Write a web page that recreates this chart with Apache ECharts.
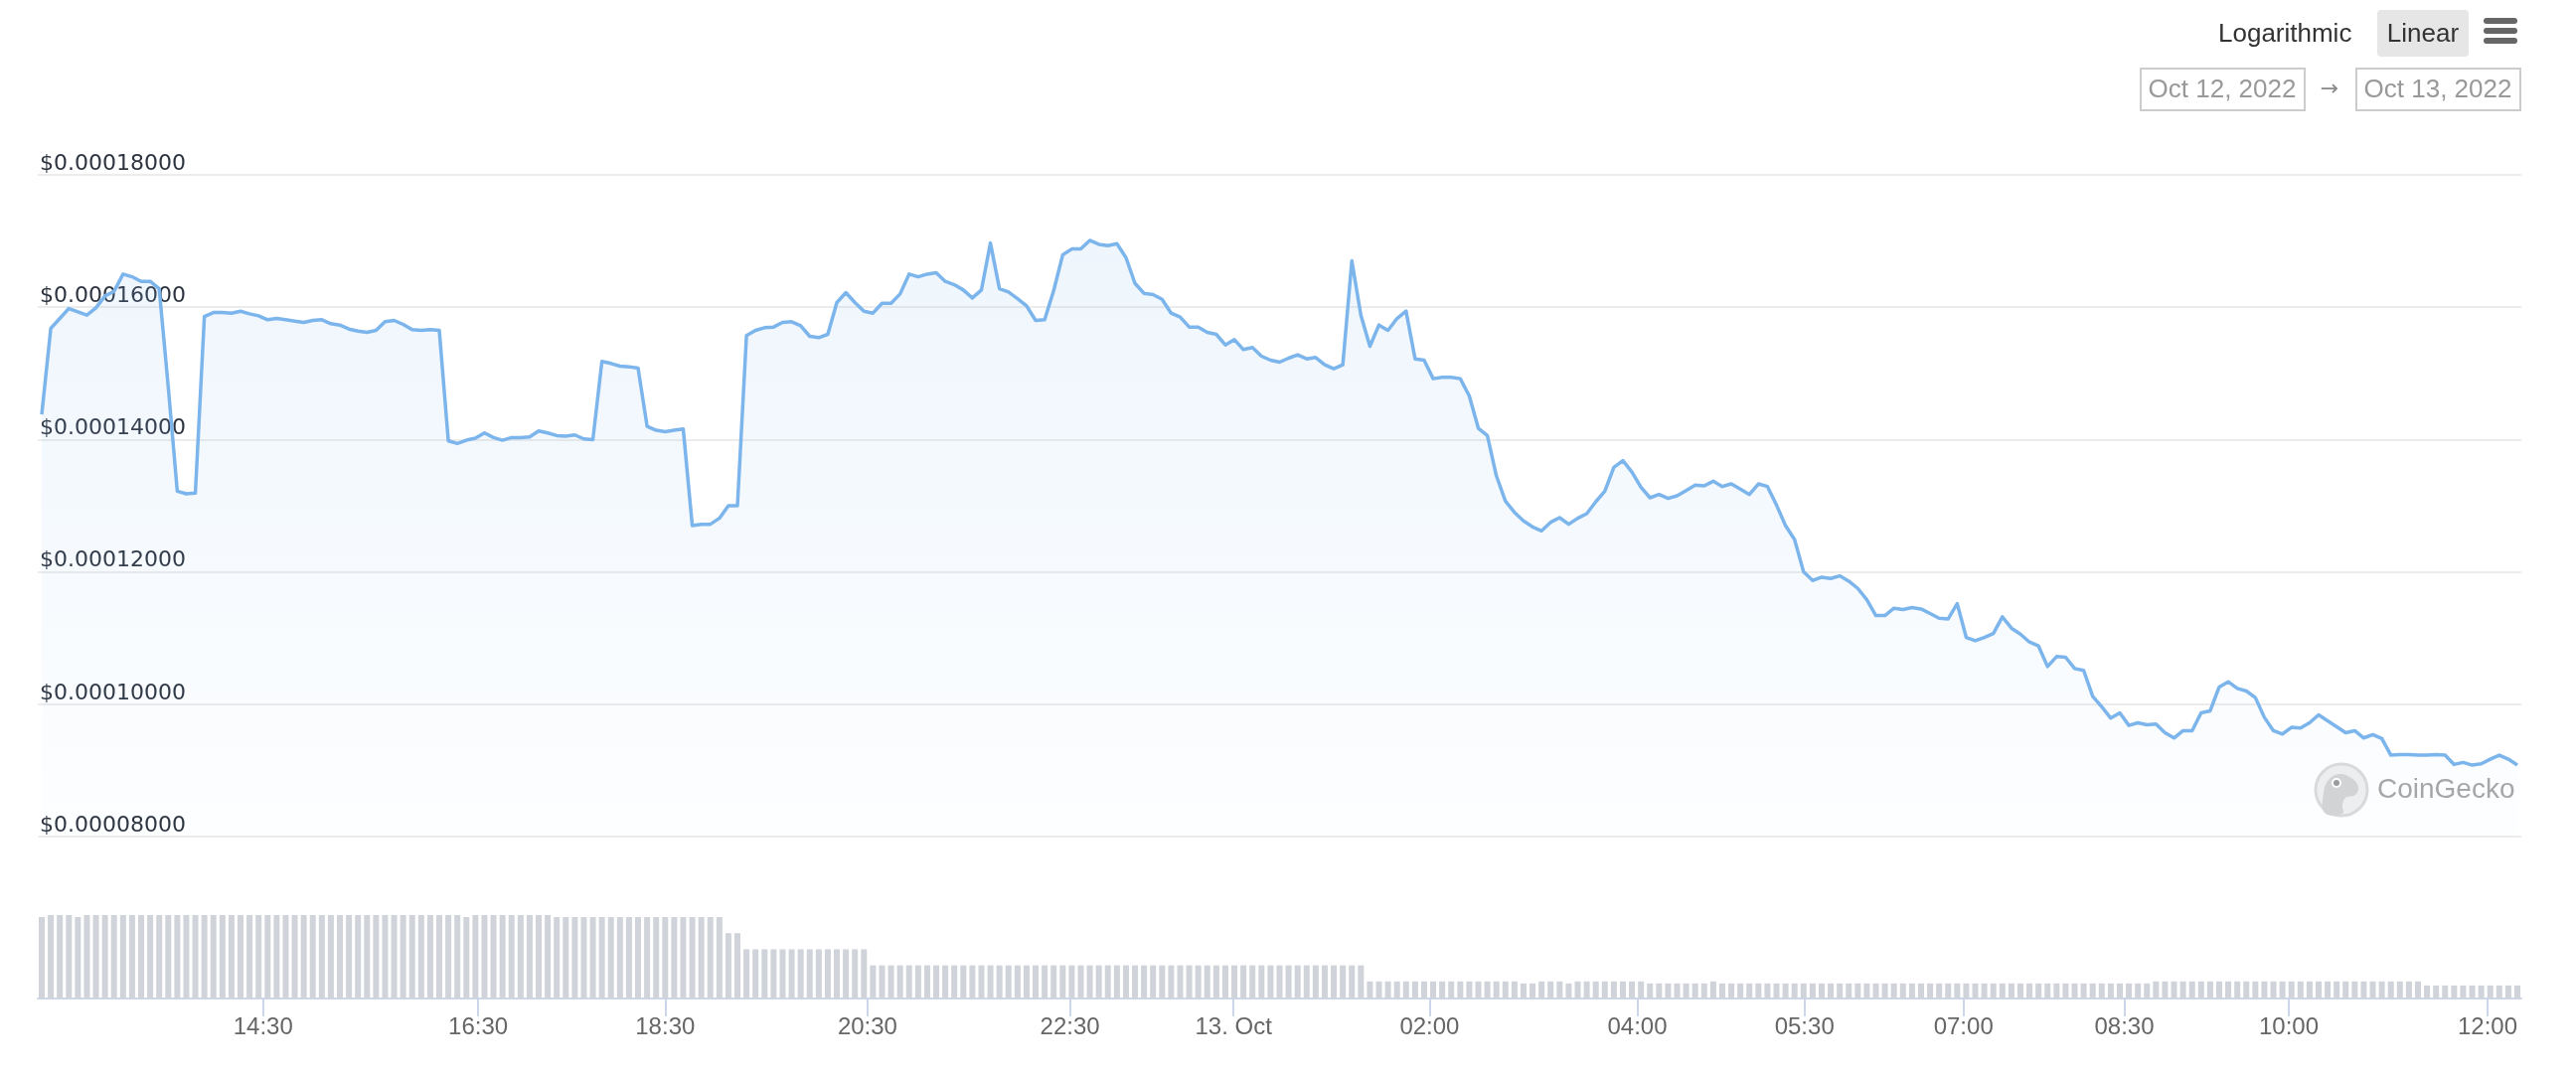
<!DOCTYPE html>
<html>
<head>
<meta charset="utf-8">
<title>Price chart</title>
<script src="https://cdn.jsdelivr.net/npm/echarts@6.0.0/dist/echarts.min.js"></script>
<style>
  html, body { margin: 0; padding: 0; background: #fff; }
  #chart { width: 2592px; height: 1084px; }
</style>
</head>
<body>
<div id="chart"></div>
<script>
// price in USD, one value per point (ordinal x axis, points evenly spaced)
var price = [
  14.38e-5, 15.68e-5, 15.83e-5, 15.98e-5, 15.93e-5, 15.88e-5, 15.99e-5, 16.17e-5, 16.24e-5, 16.50e-5,
  16.46e-5, 16.39e-5, 16.39e-5, 16.28e-5, 14.80e-5, 13.22e-5, 13.18e-5, 13.19e-5, 15.86e-5, 15.92e-5,
  15.92e-5, 15.91e-5, 15.94e-5, 15.90e-5, 15.87e-5, 15.81e-5, 15.83e-5, 15.81e-5, 15.79e-5, 15.77e-5,
  15.80e-5, 15.81e-5, 15.75e-5, 15.73e-5, 15.67e-5, 15.64e-5, 15.62e-5, 15.65e-5, 15.78e-5, 15.80e-5,
  15.74e-5, 15.66e-5, 15.65e-5, 15.66e-5, 15.65e-5, 13.98e-5, 13.94e-5, 13.99e-5, 14.02e-5, 14.10e-5,
  14.03e-5, 13.99e-5, 14.03e-5, 14.03e-5, 14.04e-5, 14.13e-5, 14.10e-5, 14.06e-5, 14.05e-5, 14.07e-5,
  14.01e-5, 14.00e-5, 15.18e-5, 15.15e-5, 15.11e-5, 15.10e-5, 15.08e-5, 14.20e-5, 14.14e-5, 14.12e-5,
  14.14e-5, 14.16e-5, 12.70e-5, 12.72e-5, 12.72e-5, 12.81e-5, 13.00e-5, 13.00e-5, 15.57e-5, 15.65e-5,
  15.69e-5, 15.70e-5, 15.77e-5, 15.78e-5, 15.72e-5, 15.56e-5, 15.54e-5, 15.59e-5, 16.07e-5, 16.22e-5,
  16.07e-5, 15.94e-5, 15.91e-5, 16.06e-5, 16.06e-5, 16.20e-5, 16.50e-5, 16.46e-5, 16.50e-5, 16.52e-5,
  16.39e-5, 16.34e-5, 16.26e-5, 16.14e-5, 16.26e-5, 16.97e-5, 16.28e-5, 16.23e-5, 16.13e-5, 16.02e-5,
  15.80e-5, 15.81e-5, 16.25e-5, 16.79e-5, 16.88e-5, 16.88e-5, 17.01e-5, 16.95e-5, 16.93e-5, 16.96e-5,
  16.75e-5, 16.36e-5, 16.21e-5, 16.19e-5, 16.12e-5, 15.91e-5, 15.85e-5, 15.70e-5, 15.70e-5, 15.62e-5,
  15.59e-5, 15.43e-5, 15.51e-5, 15.36e-5, 15.39e-5, 15.26e-5, 15.20e-5, 15.17e-5, 15.23e-5, 15.28e-5,
  15.22e-5, 15.24e-5, 15.13e-5, 15.07e-5, 15.13e-5, 16.70e-5, 15.88e-5, 15.41e-5, 15.73e-5, 15.65e-5,
  15.83e-5, 15.94e-5, 15.22e-5, 15.20e-5, 14.92e-5, 14.94e-5, 14.94e-5, 14.92e-5, 14.66e-5, 14.17e-5,
  14.06e-5, 13.45e-5, 13.07e-5, 12.90e-5, 12.77e-5, 12.68e-5, 12.62e-5, 12.75e-5, 12.82e-5, 12.72e-5,
  12.81e-5, 12.88e-5, 13.06e-5, 13.22e-5, 13.58e-5, 13.68e-5, 13.51e-5, 13.28e-5, 13.12e-5, 13.17e-5,
  13.11e-5, 13.15e-5, 13.23e-5, 13.31e-5, 13.30e-5, 13.37e-5, 13.29e-5, 13.33e-5, 13.25e-5, 13.17e-5,
  13.33e-5, 13.29e-5, 13.01e-5, 12.70e-5, 12.49e-5, 12.00e-5, 11.87e-5, 11.92e-5, 11.90e-5, 11.94e-5,
  11.86e-5, 11.75e-5, 11.58e-5, 11.34e-5, 11.34e-5, 11.45e-5, 11.43e-5, 11.46e-5, 11.44e-5, 11.37e-5,
  11.30e-5, 11.29e-5, 11.52e-5, 11.01e-5, 10.96e-5, 11.01e-5, 11.07e-5, 11.32e-5, 11.15e-5, 11.06e-5,
  10.94e-5, 10.88e-5, 10.57e-5, 10.72e-5, 10.71e-5, 10.54e-5, 10.51e-5, 10.12e-5, 9.96e-5, 9.79e-5,
  9.87e-5, 9.68e-5, 9.72e-5, 9.69e-5, 9.70e-5, 9.57e-5, 9.49e-5, 9.60e-5, 9.60e-5, 9.87e-5,
  9.90e-5, 10.26e-5, 10.34e-5, 10.24e-5, 10.20e-5, 10.10e-5, 9.80e-5, 9.60e-5, 9.55e-5, 9.65e-5,
  9.64e-5, 9.72e-5, 9.84e-5, 9.75e-5, 9.66e-5, 9.57e-5, 9.60e-5, 9.49e-5, 9.54e-5, 9.48e-5,
  9.23e-5, 9.24e-5, 9.24e-5, 9.23e-5, 9.23e-5, 9.24e-5, 9.23e-5, 9.09e-5, 9.12e-5, 9.08e-5,
  9.10e-5, 9.17e-5, 9.23e-5, 9.17e-5, 9.08e-5
]

// traded volume, relative units (the volume pane has no scale)
var volume = [
  81, 83, 83, 83, 81, 83, 83, 83, 83, 83,
  83, 83, 83, 83, 83, 83, 83, 83, 83, 83,
  83, 83, 83, 83, 83, 83, 83, 83, 83, 83,
  83, 83, 83, 83, 83, 83, 83, 83, 83, 83,
  83, 83, 83, 83, 83, 83, 83, 81, 83, 83,
  83, 83, 83, 83, 83, 83, 83, 81, 81, 81,
  81, 81, 81, 81, 81, 81, 81, 81, 81, 81,
  81, 81, 81, 81, 81, 81, 65, 65, 49, 49,
  49, 49, 49, 49, 49, 49, 49, 49, 49, 49,
  49, 49, 33, 33, 33, 33, 33, 33, 33, 33,
  33, 33, 33, 33, 33, 33, 33, 33, 33, 33,
  33, 33, 33, 33, 33, 33, 33, 33, 33, 33,
  33, 33, 33, 33, 33, 33, 33, 33, 33, 33,
  33, 33, 33, 33, 33, 33, 33, 33, 33, 33,
  33, 33, 33, 33, 33, 33, 33, 17, 17, 17,
  17, 17, 17, 17, 17, 17, 17, 17, 17, 17,
  17, 17, 17, 17, 15, 15, 17, 17, 17, 15,
  17, 17, 17, 17, 17, 17, 17, 17, 15, 15,
  15, 15, 15, 15, 15, 17, 15, 15, 15, 15,
  15, 15, 15, 15, 15, 15, 15, 15, 15, 15,
  15, 15, 15, 15, 15, 15, 15, 15, 15, 15,
  15, 15, 15, 15, 15, 15, 15, 15, 15, 15,
  15, 15, 15, 15, 15, 15, 15, 15, 15, 15,
  15, 15, 15, 15, 17, 17, 17, 17, 17, 17,
  17, 17, 17, 17, 17, 17, 17, 17, 17, 17,
  17, 17, 17, 17, 17, 17, 17, 17, 17, 17,
  17, 17, 17, 17, 13, 13, 13, 13, 13, 13,
  13, 13, 13, 13, 13
]

// time labels and where they fall on the ordinal axis (point index)
var tickPos = [24.5, 48.3, 69.0, 91.4, 113.8, 131.9, 153.6, 176.6, 195.1, 212.7, 230.5, 248.7, 270.7]
var tickLabels = ['14:30', '16:30', '18:30', '20:30', '22:30', '13. Oct', '02:00', '04:00', '05:30', '07:00', '08:30', '10:00', '12:00']

var priceMin = 0.00008
var priceMax = 0.00018
var priceStep = 0.00002

var chart = echarts.init(document.getElementById('chart'))

var lineData = price.map(function(v, i) { return [i, v] })
var barData = volume.map(function(v, i) { return [i, v] })
var xMin = -0.44
var xMax = price.length - 1 + 0.44

function tickLabel(val) {
  for (var k = 0; k < tickPos.length; k++) {
    if (Math.abs(tickPos[k] - val) < 0.01) return tickLabels[k]
  }
  return ''
}

chart.setOption({
  backgroundColor: '#fff',
  animation: false,
  grid: [
    { left: 38, width: 2499, top: 176, height: 666 },
    { left: 38, width: 2499, top: 921, height: 84 }
  ],
  xAxis: [
    { type: 'value', gridIndex: 0, min: xMin, max: xMax, show: false },
    {
      type: 'value',
      gridIndex: 1,
      min: xMin,
      max: xMax,
      splitLine: { show: false },
      axisLine: { show: true, lineStyle: { color: '#ccd6eb', width: 2 } },
      axisTick: {
        show: true,
        customValues: tickPos,
        length: 18,
        lineStyle: { color: '#ccd6eb', width: 2 }
      },
      axisLabel: {
        customValues: tickPos,
        margin: 17,
        color: '#666',
        fontSize: 24,
        fontFamily: 'Liberation Sans',
        formatter: tickLabel
      }
    }
  ],
  yAxis: [
    {
      type: 'value',
      gridIndex: 0,
      min: priceMin,
      max: priceMax,
      interval: priceStep,
      axisLine: { show: false },
      axisTick: { show: false },
      splitLine: { lineStyle: { color: '#ececec', width: 2 } },
      axisLabel: {
        inside: true,
        margin: 2,
        align: 'left',
        verticalAlign: 'bottom',
        color: '#2d3440',
        fontSize: 22,
        fontFamily: 'DejaVu Sans',
        formatter: function(v) { return '$' + v.toFixed(8) }
      }
    },
    { type: 'value', gridIndex: 1, min: 0, max: 83, show: false, splitLine: { show: false } }
  ],
  series: [
    {
      type: 'line',
      xAxisIndex: 0,
      yAxisIndex: 0,
      data: lineData,
      symbol: 'none',
      lineStyle: { color: '#7cb5ec', width: 3.5, join: 'round' },
      areaStyle: {
        color: {
          type: 'linear', x: 0, y: 176, x2: 0, y2: 842, global: true,
          colorStops: [
            { offset: 0, color: 'rgba(124,181,236,0.2)' },
            { offset: 1, color: 'rgba(124,181,236,0.02)' }
          ]
        }
      }
    },
    {
      type: 'bar',
      xAxisIndex: 1,
      yAxisIndex: 1,
      data: barData,
      barWidth: 6,
      itemStyle: { color: '#d0d4da' }
    }
  ],
  graphic: [
    // range buttons
    { type: 'text', x: 2232, y: 35, style: { text: 'Logarithmic', fill: '#333', font: '26px "Liberation Sans"', textVerticalAlign: 'middle' } },
    { type: 'rect', shape: { x: 2392, y: 10, width: 92, height: 47, r: 4 }, style: { fill: '#e6e6e6' } },
    { type: 'text', x: 2438, y: 35, style: { text: 'Linear', fill: '#333', font: '26px "Liberation Sans"', textAlign: 'center', textVerticalAlign: 'middle' } },
    // menu icon
    { type: 'rect', shape: { x: 2499, y: 18, width: 34, height: 6, r: 3 }, style: { fill: '#666' } },
    { type: 'rect', shape: { x: 2499, y: 28, width: 34, height: 6, r: 3 }, style: { fill: '#666' } },
    { type: 'rect', shape: { x: 2499, y: 38, width: 34, height: 6, r: 3 }, style: { fill: '#666' } },
    // date inputs
    { type: 'rect', shape: { x: 2154, y: 69, width: 165, height: 42 }, style: { fill: '#fff', stroke: '#cccccc', lineWidth: 2 } },
    { type: 'text', x: 2236, y: 91, style: { text: 'Oct 12, 2022', fill: '#999', font: '26px "Liberation Sans"', textAlign: 'center', textVerticalAlign: 'middle' } },
    { type: 'text', x: 2344, y: 90, style: { text: '→', fill: '#888', font: '22px "DejaVu Sans"', textAlign: 'center', textVerticalAlign: 'middle' } },
    { type: 'rect', shape: { x: 2371, y: 69, width: 165, height: 42 }, style: { fill: '#fff', stroke: '#cccccc', lineWidth: 2 } },
    { type: 'text', x: 2453, y: 91, style: { text: 'Oct 13, 2022', fill: '#999', font: '26px "Liberation Sans"', textAlign: 'center', textVerticalAlign: 'middle' } },
    // watermark
    { type: 'circle', shape: { cx: 2356, cy: 795, r: 26 }, style: { fill: '#efefef', stroke: '#dadada', lineWidth: 3 } },
    { type: 'polygon', shape: { points: [[2339, 818], [2338, 798], [2343, 785], [2354, 779], [2366, 783], [2373, 792], [2370, 800], [2360, 803], [2357, 810], [2357, 819]], smooth: 0.4 }, style: { fill: '#d4d4d4' } },
    { type: 'circle', shape: { cx: 2351, cy: 788, r: 5 }, style: { fill: '#fff' } },
    { type: 'circle', shape: { cx: 2351, cy: 788, r: 3 }, style: { fill: '#9a9a9a' } },
    { type: 'text', x: 2392, y: 795, style: { text: 'CoinGecko', fill: '#a6a6a6', font: '28px "Liberation Sans"', textVerticalAlign: 'middle' } }
  ]
})
</script>
</body>
</html>
